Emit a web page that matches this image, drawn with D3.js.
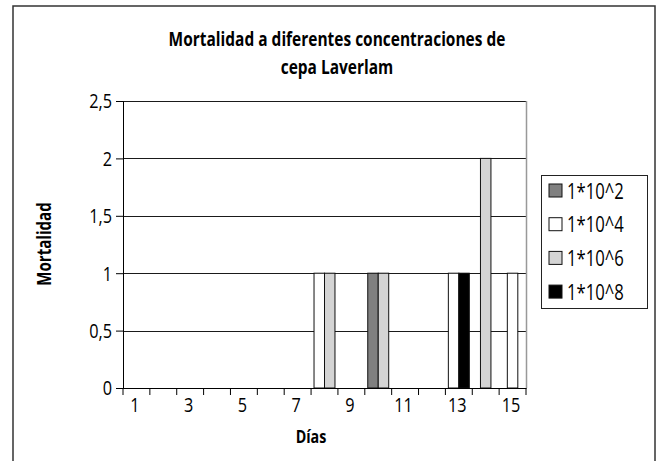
<!DOCTYPE html>
<html>
<head>
<meta charset="utf-8">
<script src="https://cdn.jsdelivr.net/npm/d3@7"></script>
<style>
  html, body { margin: 0; padding: 0; background: #fff; }
  svg text { font-family: "Open Sans", sans-serif; fill: #000; }
</style>
</head>
<body>
<svg id="chart" width="660" height="461"></svg>
<script>
const days = [1,2,3,4,5,6,7,8,9,10,11,12,13,14,15];
const dayLabels = ["1","","3","","5","","7","","9","","11","","13","","15"];
const seriesNames = ["1*10^2", "1*10^4", "1*10^6", "1*10^8"];
const seriesColors = ["#808080", "#ffffff", "#d4d4d4", "#000000"];
const s1 = [0,0,0,0,0,0,0,0,0,1,0,0,0,0,0];
const s2 = [0,0,0,0,0,0,0,1,0,0,0,0,1,0,1];
const s3 = [0,0,0,0,0,0,0,1,0,1,0,0,0,2,0];
const s4 = [0,0,0,0,0,0,0,0,0,0,0,0,1,0,0];
const seriesValues = [s1, s2, s3, s4];
const yTicks = [0, 0.5, 1, 1.5, 2, 2.5];
const yTickLabels = ["0", "0,5", "1", "1,5", "2", "2,5"];
const titleLines = ["Mortalidad a diferentes concentraciones de", "cepa Laverlam"];
const xTitle = "Días";
const yTitle = "Mortalidad";

const svg = d3.select("#chart");
const plot = { left: 123, right: 526, top: 101, bottom: 388 };

// outer frame
svg.append("rect").attr("x", 13).attr("y", 6).attr("width", 642).attr("height", 470)
  .attr("fill", "#fff").attr("stroke", "#333").attr("stroke-width", 1.5);

const x = d3.scaleBand().domain(days).range([plot.left, plot.right]).padding(0);
const y = d3.scaleLinear().domain([0, 2.5]).range([plot.bottom, plot.top]);

// gridlines
svg.append("g").selectAll("line").data(yTicks).join("line")
  .attr("x1", plot.left).attr("x2", plot.right)
  .attr("y1", d => Math.round(y(d)) + 0.5).attr("y2", d => Math.round(y(d)) + 0.5)
  .attr("stroke", "#1a1a1a").attr("stroke-width", 1);

// plot right border
svg.append("line").attr("x1", plot.right + 0.5).attr("x2", plot.right + 0.5)
  .attr("y1", plot.top).attr("y2", plot.bottom).attr("stroke", "#999").attr("stroke-width", 1.5);

// bars: non-zero series per day packed side by side, centred in the day band
const barW = x.bandwidth() * 0.39;
const bars = [];
days.forEach((d, i) => {
  const present = seriesNames.map((n, k) => ({ k, v: seriesValues[k][i] })).filter(o => o.v > 0);
  const inner = d3.scaleBand().domain(present.map(o => o.k))
    .range([x(d) + x.bandwidth() / 2 - present.length * barW / 2,
            x(d) + x.bandwidth() / 2 + present.length * barW / 2]);
  present.forEach(o => bars.push({ day: d, k: o.k, v: o.v, x0: inner(o.k), w: inner.bandwidth() }));
});
svg.append("g").selectAll("rect").data(bars).join("rect")
  .attr("x", d => d.x0).attr("width", d => d.w)
  .attr("y", d => y(d.v)).attr("height", d => y(0) - y(d.v))
  .attr("fill", d => seriesColors[d.k]).attr("stroke", "#111").attr("stroke-width", 1);

// y axis
const yAxis = d3.axisLeft(y).tickValues(yTicks).tickFormat((d, i) => yTickLabels[i]).tickSize(7).tickPadding(4);
const yg = svg.append("g").attr("transform", `translate(${plot.left},0)`).call(yAxis);
yg.select(".domain").attr("stroke", "#000");
yg.selectAll(".tick line").attr("stroke", "#000");
yg.selectAll("text").attr("font-size", 20.5).attr("font-family", null).attr("dy", "0.34em");

// x axis
const xAxis = d3.axisBottom(x).tickFormat((d, i) => dayLabels[i]).tickSize(0).tickPadding(9);
const xg = svg.append("g").attr("transform", `translate(0,${plot.bottom})`).call(xAxis);
xg.select(".domain").attr("stroke", "#000");
xg.selectAll("text").attr("font-size", 20.5).attr("font-family", null).attr("dx", -2);
xg.append("g").selectAll("line").data(days.concat([null])).join("line")
  .attr("x1", (d, i) => i < days.length ? x(d) : plot.right)
  .attr("x2", (d, i) => i < days.length ? x(d) : plot.right)
  .attr("y1", 0).attr("y2", 7).attr("stroke", "#000");

// titles
const t1 = svg.append("g").selectAll("text").data(titleLines).join("text")
  .attr("x", 337).attr("y", (d, i) => 46 + i * 28)
  .attr("text-anchor", "middle").attr("font-weight", "bold").attr("font-size", 19.5)
  .text(d => d);
svg.append("text").attr("x", 311).attr("y", 443).attr("text-anchor", "middle")
  .attr("font-weight", "bold").attr("font-size", 18).text(xTitle);
svg.append("text").attr("transform", "translate(51,244) rotate(-90)").attr("text-anchor", "middle")
  .attr("font-weight", "bold").attr("font-size", 19).text(yTitle);

// legend
const lg = svg.append("g");
lg.append("rect").attr("x", 541.5).attr("y", 175.5).attr("width", 106).attr("height", 133)
  .attr("fill", "#fff").attr("stroke", "#222");
const items = lg.selectAll("g.item").data(seriesNames).join("g").attr("class", "item")
  .attr("transform", (d, i) => `translate(549,${184 + i * 33.7})`);
items.append("rect").attr("width", 13).attr("height", 13)
  .attr("fill", (d, i) => seriesColors[i]).attr("stroke", "#111");
items.append("text").attr("x", 18).attr("y", 7).attr("dy", "0.36em")
  .attr("font-size", 21).text(d => d);

// the original typeface is narrow: compress all text horizontally
const w1 = t1.node().getComputedTextLength();
const sx = Math.max(0.6, Math.min(1, 337 / w1));
svg.selectAll("text").each(function () {
  const el = d3.select(this);
  const X = +(el.attr("x") || 0);
  const tr = el.attr("transform") || "";
  el.attr("x", X / sx).attr("transform", (tr + ` scale(${sx},1)`).trim());
});
</script>
</body>
</html>
